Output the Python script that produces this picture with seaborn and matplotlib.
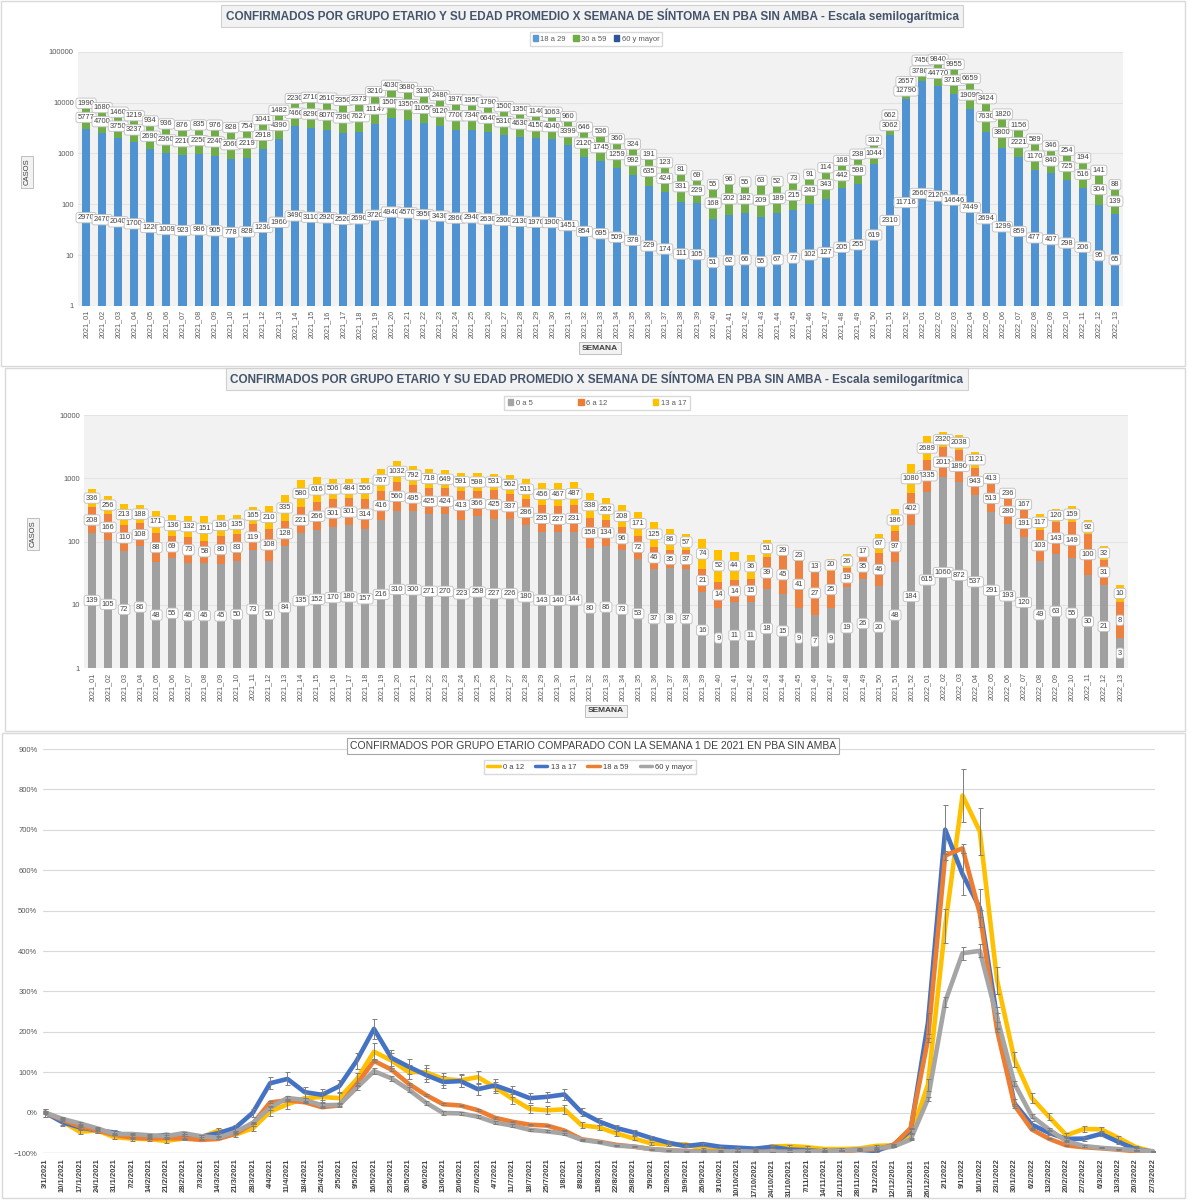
import numpy as np
import pandas as pd
import matplotlib
matplotlib.use("Agg")
import matplotlib.pyplot as plt
import seaborn as sns
from matplotlib.patches import Rectangle, Patch
from matplotlib.lines import Line2D
from matplotlib.ticker import PercentFormatter

# semanas epidemiologicas y fecha de inicio de cada semana
weeks = [f"2021_{i:02d}" for i in range(1, 53)] + [f"2022_{i:02d}" for i in range(1, 14)]
dates = [f"{d.day}/{d.month}/{d.year}" for d in pd.date_range("2021-01-03", periods=65, freq="7D")]

# adultos (casos por semana)
a18_29 = [2970, 2470, 2040, 1700, 1220, 1009, 923, 986, 905, 778, 828, 1230, 1960,
          3490, 3110, 2920, 2520, 2690, 3720, 4940, 4570, 3950, 3430, 2860, 2940, 2630,
          2300, 2130, 1970, 1900, 1451, 854, 695, 509, 378, 229, 174, 111, 105, 51,
          62, 66, 55, 67, 77, 102, 127, 205, 255, 619, 2310, 11716,
          26600, 21200, 14646, 7449, 2694, 1299, 859, 477, 407, 298, 206, 95, 65]
a30_59 = [5777, 4700, 3750, 3237, 2690, 2360, 2210, 2250, 2240, 2060, 2219, 2918, 4390,
          7460, 8290, 8070, 7390, 7627, 11147, 15000, 13500, 11050, 9120, 7700, 7340, 6640,
          5310, 4630, 4150, 4040, 3399, 2120, 1745, 1259, 992, 635, 424, 331, 229, 168,
          202, 182, 209, 189, 215, 243, 343, 442, 598, 1044, 3062, 12790,
          37800, 44770, 37180, 19090, 7630, 3800, 2221, 1170, 840, 725, 516, 304, 139]
a60_mas = [1990, 1680, 1460, 1219, 934, 936, 876, 835, 976, 828, 754, 1041, 1482,
           2230, 2710, 2610, 2350, 2373, 3210, 4030, 3680, 3130, 2480, 1970, 1950, 1790,
           1500, 1350, 1140, 1063, 960, 646, 536, 360, 324, 191, 123, 81, 69, 55,
           96, 55, 63, 52, 73, 91, 114, 168, 238, 312, 662, 2657,
           7450, 9840, 9955, 6659, 3424, 1820, 1156, 589, 346, 254, 194, 141, 88]

# menores (casos por semana)
c0_5 = [139, 105, 72, 86, 48, 55, 46, 46, 45, 50, 73, 50, 84,
        135, 152, 170, 180, 157, 216, 310, 300, 271, 270, 223, 258, 227,
        226, 180, 143, 140, 144, 80, 86, 73, 53, 37, 38, 37, 16, 9,
        11, 11, 18, 15, 9, 7, 9, 19, 26, 20, 48, 184,
        615, 1060, 872, 537, 291, 193, 120, 49, 63, 55, 30, 21, 3]
c6_12 = [208, 166, 110, 108, 88, 69, 73, 58, 80, 83, 119, 108, 128,
         221, 266, 301, 301, 314, 416, 560, 495, 425, 424, 413, 366, 425,
         337, 286, 235, 227, 231, 158, 134, 96, 72, 46, 35, 37, 21, 14,
         14, 15, 39, 45, 41, 27, 25, 19, 35, 46, 97, 402,
         1335, 2011, 1890, 943, 513, 280, 191, 103, 143, 149, 100, 31, 8]
c13_17 = [336, 256, 213, 188, 171, 136, 132, 151, 136, 135, 165, 210, 335,
          580, 616, 506, 484, 556, 767, 1032, 792, 718, 649, 591, 598, 531,
          562, 511, 456, 467, 487, 338, 262, 208, 171, 125, 86, 57, 74, 52,
          44, 36, 51, 29, 23, 13, 20, 26, 17, 67, 186, 1080,
          2689, 2320, 2038, 1121, 413, 236, 167, 117, 120, 159, 92, 32, 10]

W, H = 1189, 1200
sns.set_theme(style="white")
plt.rcParams["font.family"] = ["Liberation Sans", "DejaVu Sans"]
fig = plt.figure(figsize=(W / 100, H / 100), dpi=100)


def box(x0, y0, x1, y1):
    return [x0 / W, 1 - y1 / H, (x1 - x0) / W, (y1 - y0) / H]


def ftext(x, y, s, **kw):
    fig.text(x / W, 1 - y / H, s, ha="center", va="center", **kw)


def frame(x0, y0, x1, y1):
    fig.add_artist(Rectangle((x0 / W, 1 - y1 / H), (x1 - x0) / W, (y1 - y0) / H,
                             transform=fig.transFigure, fill=False,
                             edgecolor="#D9D9D9", lw=1))


title_box = dict(boxstyle="square,pad=0.35", facecolor="#F2F2F2", edgecolor="#D0D0D0", lw=0.8)
small_box = dict(boxstyle="square,pad=0.3", facecolor="#F2F2F2", edgecolor="#BFBFBF", lw=0.7)
lbl_box = dict(boxstyle="round,pad=0.22,rounding_size=0.3", facecolor="white",
               edgecolor="#BFBFBF", lw=0.6)


def stacked_log(ax, series, colors, ymax):
    x = np.arange(len(weeks))
    bottom = np.zeros(len(weeks))
    for vals, col in zip(series, colors):
        vals = np.array(vals, float)
        ax.bar(x, vals, width=0.5, bottom=bottom, color=col, zorder=2, linewidth=0)
        # etiqueta en el centro (logaritmico) del tramo visible
        lo = np.maximum(bottom, 1)
        mid = np.sqrt(lo * (bottom + vals))
        for xi, yi, v in zip(x, mid, vals):
            ax.text(xi, yi, f"{int(v)}", ha="center", va="center", fontsize=5.4,
                    color="#404040", bbox=lbl_box, zorder=5)
        bottom = bottom + vals
    ax.set_yscale("log")
    ax.set_ylim(1, ymax)
    ax.set_xlim(-0.5, len(weeks) - 0.5)
    ax.set_facecolor("#F2F2F2")
    ax.yaxis.grid(True, color="#E3E3E3", lw=0.8, zorder=0)
    ax.set_axisbelow(True)
    ticks = [10 ** k for k in range(int(np.log10(ymax)) + 1)]
    ax.set_yticks(ticks)
    ax.set_yticklabels([str(t) for t in ticks], fontsize=5.5, color="#595959")
    ax.minorticks_off()
    ax.set_xticks(x)
    ax.set_xticklabels(weeks, rotation=90, fontsize=5.2, color="#595959")
    ax.tick_params(length=0, pad=3)
    for s in ax.spines.values():
        s.set_visible(False)


titulo = ("CONFIRMADOS POR GRUPO ETARIO Y SU EDAD PROMEDIO X SEMANA DE SÍNTOMA "
          "EN PBA SIN AMBA - Escala semilogarítmica")

# ---- panel 1: adultos ----
ax1 = fig.add_axes(box(78, 51.7, 1123, 306))
cols1 = ["#4F93D2", "#70AD47", "#264478"]
stacked_log(ax1, [a18_29, a30_59, a60_mas], cols1, 100000)
ftext(592, 16, titulo, fontsize=8.5, fontweight="bold", color="#44546A", bbox=title_box)
ftext(27, 172, "CASOS", rotation=90, fontsize=5.5, color="#404040", bbox=small_box)
ftext(600, 348, "SEMANA", fontsize=6, fontweight="bold", color="#404040", bbox=small_box)
ax1.legend(handles=[Patch(color=c, label=l) for c, l in zip(["#5B9BD5", "#70AD47", "#2F5597"],
                                                           ["18 a 29", "30 a 59", "60 y mayor"])],
           loc="center", bbox_to_anchor=(596 / W, 1 - 39 / H), bbox_transform=fig.transFigure,
           ncol=3, fontsize=5.5, frameon=True, fancybox=False, edgecolor="#D0D0D0",
           handlelength=0.7, handleheight=0.7, handletextpad=0.3, columnspacing=1.0,
           borderpad=0.4, labelcolor="#595959")
frame(1, 1, 1185, 366)

# ---- panel 2: menores ----
ax2 = fig.add_axes(box(84, 415, 1128, 668.3))
cols2 = ["#A0A0A0", "#EE8040", "#FFC000"]
stacked_log(ax2, [c0_5, c6_12, c13_17], cols2, 10000)
ftext(597, 379, titulo, fontsize=8.5, fontweight="bold", color="#44546A", bbox=title_box)
ftext(33, 534, "CASOS", rotation=90, fontsize=5.5, color="#404040", bbox=small_box)
ftext(606, 711, "SEMANA", fontsize=6, fontweight="bold", color="#404040", bbox=small_box)
ax2.legend(handles=[Patch(color=c, label=l) for c, l in zip(["#A5A5A5", "#ED7D31", "#FFC000"],
                                                           ["0 a 5", "6 a 12", "13 a 17"])],
           loc="center", bbox_to_anchor=(597 / W, 1 - 403 / H), bbox_transform=fig.transFigure,
           ncol=3, fontsize=5.5, frameon=True, fancybox=False, edgecolor="#D0D0D0",
           handlelength=0.7, handleheight=0.7, handletextpad=0.3, columnspacing=6.0,
           borderpad=0.45, labelcolor="#595959")
frame(5, 368, 1185, 731)

# ---- panel 3: variacion respecto de la semana 1 de 2021 ----
g0_12 = np.array(c0_5) + np.array(c6_12)
g13_17 = np.array(c13_17, float)
g18_59 = np.array(a18_29) + np.array(a30_59)
g60 = np.array(a60_mas, float)
groups = [("0 a 12", g0_12, "#FFC000"), ("13 a 17", g13_17, "#4472C4"),
          ("18 a 59", g18_59, "#ED7D31"), ("60 y mayor", g60, "#A5A5A5")]

ax3 = fig.add_axes(box(43, 749, 1155, 1153))
xs = np.arange(len(dates))
for name, cnt, col in groups:
    ratio = cnt / cnt[0]
    pct = ratio - 1
    # barra de error aprox. poisson sobre el cociente
    err = 1.3 * ratio * np.sqrt(1 / cnt + 1 / cnt[0])
    sns.lineplot(x=xs, y=pct, ax=ax3, color=col, linewidth=3.3, legend=False, zorder=3)
    ax3.errorbar(xs, pct, yerr=err, fmt="none", ecolor="#7F7F7F", elinewidth=0.7,
                 capsize=1.8, capthick=0.7, zorder=4)
ax3.set_ylim(-1, 9)
ax3.set_xlim(-0.12, len(dates) - 1 + 0.12)
ax3.set_yticks(np.arange(-1, 9.1, 1))
ax3.yaxis.set_major_formatter(PercentFormatter(1.0, decimals=0))
ax3.yaxis.grid(True, color="#D9D9D9", lw=0.8, zorder=0)
ax3.set_axisbelow(True)
ax3.set_xticks(xs)
ax3.set_xticklabels(dates, rotation=90, fontsize=5.4, color="#404040", fontweight="bold")
for lab in ax3.get_yticklabels():
    lab.set_fontsize(5.5)
    lab.set_color("#595959")
ax3.tick_params(length=0, pad=4)
for s in ax3.spines.values():
    s.set_visible(False)
ax3.axhline(-1, color="#BFBFBF", lw=0.9, zorder=1)
ftext(593, 746, "CONFIRMADOS POR GRUPO ETARIO COMPARADO CON LA SEMANA 1 DE 2021 EN PBA SIN AMBA",
      fontsize=7.5, color="#404040", bbox=dict(boxstyle="square,pad=0.3", facecolor="white",
                                               edgecolor="#A6A6A6", lw=0.8))
ax3.legend(handles=[Line2D([], [], color=c, lw=2.5, label=n) for n, _, c in groups],
           loc="center", bbox_to_anchor=(590 / W, 1 - 767 / H), bbox_transform=fig.transFigure,
           ncol=4, fontsize=5.5, frameon=True, fancybox=False, edgecolor="#D0D0D0",
           handlelength=1.6, handletextpad=0.4, columnspacing=1.5, borderpad=0.4,
           labelcolor="#404040")
frame(2, 733, 1185, 1198)

fig.savefig("out.png", dpi=100, facecolor="white")
